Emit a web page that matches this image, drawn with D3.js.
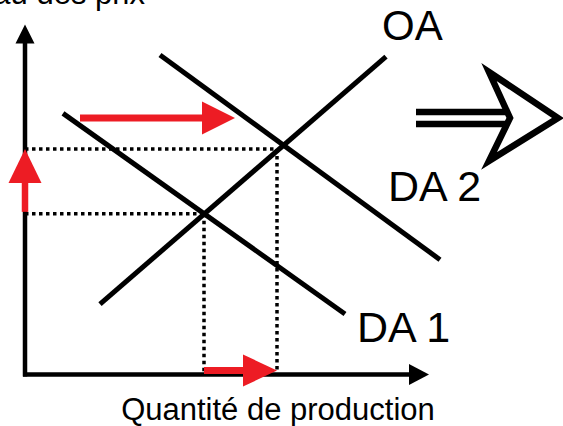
<!DOCTYPE html>
<html><head><meta charset="utf-8">
<script src="https://cdn.jsdelivr.net/npm/d3@7"></script>
<style>html,body{margin:0;padding:0;background:#fff;}svg{display:block;font-family:"Liberation Sans",Arial,sans-serif;}</style>
</head><body>
<script>
// ---- data (abstract units: quantity 0..100, price 0..100) ----
const curveNames = ["OA", "DA 1", "DA 2"];
const curveStart = [[18.75, 20.1], [9.5, 74.6], [33.75, 91.3]];
const curveEnd   = [[90.25, 90.8], [80, 17.3], [103.75, 32.8]];
const labelPos   = [[89.25, 95.6], [83, 9.2], [90.75, 49.7]];
const eqQuantity = [44.75, 63];
const eqPrice    = [45.9, 64.4];
const shiftFrom  = [13.75, 73.3];
const shiftTo    = [52.5, 73.3];
const axisTitles = ["Niveau des prix", "Quantité de production"];

const W = 563, H = 426;
const x = d3.scaleLinear().domain([0, 100]).range([25, 425]);
const y = d3.scaleLinear().domain([0, 100]).range([374.5, 24.5]);
const RED = "#ED1C24";

const svg = d3.select("body").append("svg").attr("width", W).attr("height", H);

function arrow(g, x1, y1, x2, y2, headLen, headW, shaftW, color) {
  const dx = x2 - x1, dy = y2 - y1, L = Math.hypot(dx, dy);
  const ux = dx / L, uy = dy / L, nx = -uy, ny = ux;
  const bx = x2 - ux * headLen, by = y2 - uy * headLen;
  g.append("line").attr("x1", x1).attr("y1", y1).attr("x2", bx + ux).attr("y2", by + uy)
    .attr("stroke", color).attr("stroke-width", shaftW);
  g.append("path").attr("d", `M${x2},${y2}L${bx + nx * headW / 2},${by + ny * headW / 2}L${bx - nx * headW / 2},${by - ny * headW / 2}Z`)
    .attr("fill", color);
}

// dotted guides
const dots = svg.append("g").attr("stroke", "#000").attr("stroke-width", 3.5).attr("stroke-dasharray", "3.5,3.5").attr("fill", "none");
eqQuantity.forEach((q, i) => {
  dots.append("line").attr("x1", x(0)).attr("x2", x(q)).attr("y1", y(eqPrice[i])).attr("y2", y(eqPrice[i]));
  dots.append("line").attr("x1", x(q)).attr("x2", x(q)).attr("y1", y(eqPrice[i])).attr("y2", y(0));
});

// curves
svg.append("g").selectAll("line").data(curveNames).join("line")
  .attr("x1", (d, i) => x(curveStart[i][0])).attr("y1", (d, i) => y(curveStart[i][1]))
  .attr("x2", (d, i) => x(curveEnd[i][0])).attr("y2", (d, i) => y(curveEnd[i][1]))
  .attr("stroke", "#000").attr("stroke-width", 5);

svg.append("g").selectAll("text").data(curveNames).join("text")
  .attr("x", (d, i) => x(labelPos[i][0])).attr("y", (d, i) => y(labelPos[i][1]))
  .attr("font-size", (d, i) => i === 0 ? 42 : 43).attr("fill", "#000").text(d => d);

// axes
const ax = svg.append("g");
arrow(ax, x(0), y(0) + 2, x(0), y(0) - 350, 19, 19, 4.5, "#000");
arrow(ax, x(0) - 2, y(0), x(0) + 404, y(0), 20, 21, 4.5, "#000");

// red shift arrows
const ra = svg.append("g");
arrow(ra, x(0), y(eqPrice[0]) - 2, x(0), y(eqPrice[1]), 34, 33, 6.5, RED);
arrow(ra, x(eqQuantity[0]), y(0) - 4, x(eqQuantity[1]), y(0) - 4, 34, 32, 7, RED);
arrow(ra, x(shiftFrom[0]), y(shiftFrom[1]), x(shiftTo[0]), y(shiftTo[1]), 33, 33, 7, RED);

// big outlined implication arrow
const big = svg.append("g").attr("stroke", "#000").attr("fill", "none");
big.append("line").attr("x1", 416).attr("x2", 506).attr("y1", 112).attr("y2", 112).attr("stroke-width", 6.5);
big.append("line").attr("x1", 416).attr("x2", 506).attr("y1", 124).attr("y2", 124).attr("stroke-width", 6.5);
big.append("path").attr("d", "M489,72L558,118L489,161L510,118Z").attr("stroke-width", 6.5).attr("stroke-linejoin", "miter").attr("fill", "#fff");

// axis titles
svg.append("text").attr("x", 145).attr("y", 4).attr("text-anchor", "end").attr("font-size", 31).text(axisTitles[0]);
svg.append("text").attr("x", 278).attr("y", 420).attr("text-anchor", "middle").attr("font-size", 31).text(axisTitles[1]);
</script>
</body></html>
